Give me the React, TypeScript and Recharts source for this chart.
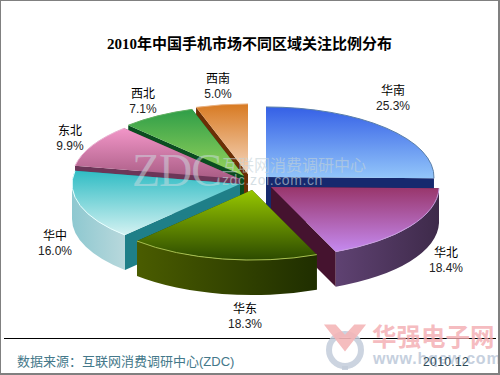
import { Pie, PieChart } from "recharts";

const regions = ["华南", "华北", "华东", "华中", "东北", "西北", "西南"];
const shares = [25.3, 18.4, 18.3, 16.0, 9.9, 7.1, 5.0];

// back to front, the wedges overlap each other
const drawOrder = ["西南", "西北", "东北", "华南", "华中", "华北", "华东"];

const topColors: Record<string, [string, string]> = {
  华南: ["#3560e6", "#93c6fa"],
  华北: ["#98356a", "#c58af0"],
  华东: ["#98c800", "#2c4a00"],
  华中: ["#30bcc4", "#d4f2f2"],
  东北: ["#f296c8", "#a85c84"],
  西北: ["#2f9e48", "#98d45c"],
  西南: ["#d87a22", "#f6d8c0"],
};
const rimColors: Record<string, [string, string]> = {
  华南: ["#1c3080", "#1c3080"],
  华北: ["#5f4272", "#3e2a4a"],
  华东: ["#4a5c00", "#1f2e00"],
  华中: ["#8ec8d0", "#b8d8dc"],
  东北: ["#7a3f60", "#7a3f60"],
  西北: ["#0a4d20", "#0a4d20"],
  西南: ["#6b2f05", "#6b2f05"],
};
const cutColors: Record<string, string> = {
  华南: "#16296e",
  华北: "#45132f",
  华东: "#2c3c00",
  华中: "#1f7f88",
  东北: "#6c3658",
  西北: "#0a4d20",
  西南: "#6b2f05",
};
const edgeColors: Record<string, string> = {
  华南: "#5a7fa8",
  华北: "#c9a0e0",
  华东: "#a8c050",
  华中: "#e8ffff",
  东北: "#e8b0d0",
  西北: "#60b060",
  西南: "#e8b080",
};
const explode: Record<string, [number, number]> = {
  华南: [26, -3],
  华北: [31, 7],
  华东: [12, 10],
  华中: [0, 4],
  东北: [0, -1],
  西北: [4, -4],
  西南: [8, -6],
};
const labelAt: Record<string, [number, number]> = {
  华南: [393, 90],
  华北: [446, 252],
  华东: [245, 308],
  华中: [55, 235],
  东北: [70, 130],
  西北: [143, 93],
  西南: [218, 78],
};

const TILT = 0.417;
const DEPTH = 35;
const sansFont = '"Liberation Sans", "Noto Sans CJK SC", sans-serif';

function WedgeShape(props: any, target: string) {
  const name = props.payload?.name ?? props.name;
  if (name !== target) return <g />;
  const { cx, cy, outerRadius, startAngle, endAngle } = props;
  const rx = outerRadius;
  const ry = outerRadius * TILT;
  const [ox, oy] = explode[name];
  const ax = cx + ox;
  const ay = cy + oy;
  const pt = (deg: number) => {
    const r = (deg * Math.PI) / 180;
    return [ax + rx * Math.cos(r), ay - ry * Math.sin(r)];
  };
  const face = (deg: number) => {
    const p = pt(deg);
    return `M${ax},${ay} L${p[0]},${p[1]} L${p[0]},${p[1] + DEPTH} L${ax},${ay + DEPTH} Z`;
  };

  const [sx, sy] = pt(startAngle);
  const [ex, ey] = pt(endAngle);
  const large = Math.abs(endAngle - startAngle) > 180 ? 1 : 0;
  const top = `M${ax},${ay} L${sx},${sy} A${rx},${ry} 0 ${large} 1 ${ex},${ey} Z`;
  const edge = `M${sx},${sy} A${rx},${ry} 0 ${large} 1 ${ex},${ey}`;

  // only the front half of the rim can be seen
  const r1 = Math.min(startAngle, 0);
  const r2 = Math.max(endAngle, -180);
  let rim = "";
  if (r1 > r2) {
    const [x1, y1] = pt(r1);
    const [x2, y2] = pt(r2);
    rim = `M${x1},${y1} A${rx},${ry} 0 0 1 ${x2},${y2} L${x2},${y2 + DEPTH} A${rx},${ry} 0 0 0 ${x1},${y1 + DEPTH} Z`;
  }

  const id = regions.indexOf(name);
  const [lx, ly] = labelAt[name];
  return (
    <g>
      <defs>
        <linearGradient id={`top${id}`} x1="0" y1="0" x2="0" y2="1">
          <stop offset="0%" stopColor={topColors[name][0]} />
          <stop offset="100%" stopColor={topColors[name][1]} />
        </linearGradient>
        <linearGradient id={`rim${id}`} x1="0" y1="0" x2="1" y2="0">
          <stop offset="0%" stopColor={rimColors[name][0]} />
          <stop offset="100%" stopColor={rimColors[name][1]} />
        </linearGradient>
      </defs>
      <path d={face(startAngle)} fill={cutColors[name]} />
      <path d={face(endAngle)} fill={cutColors[name]} />
      {rim && <path d={rim} fill={`url(#rim${id})`} />}
      <path d={top} fill={`url(#top${id})`} />
      <path d={edge} fill="none" stroke={edgeColors[name]} strokeWidth={1} />
      <text x={lx} y={ly + 5} textAnchor="middle" fontSize={12} fontFamily={sansFont} fill="#000">
        {name}
      </text>
      <text x={lx} y={ly + 20} textAnchor="middle" fontSize={12} fontFamily={sansFont} fill="#222">
        {props.value.toFixed(1)}%
      </text>
    </g>
  );
}

const data = regions.map((name, i) => ({ name, value: shares[i] }));

function Abs({ x, y, style, children }: any) {
  return (
    <div style={{ position: "absolute", left: x, top: y, whiteSpace: "nowrap", ...style }}>
      {children}
    </div>
  );
}

export default function App() {
  return (
    <div
      style={{
        position: "absolute",
        left: 0,
        top: 0,
        width: 500,
        height: 375,
        boxSizing: "border-box",
        border: "1px solid #808080",
        borderRightWidth: 2,
        borderBottomWidth: 2,
        background: "#fff",
        overflow: "hidden",
      }}
    >
      <div style={{ position: "absolute", left: -1, top: -1 }}>
        <PieChart width={500} height={375} margin={{ top: 0, right: 0, bottom: 0, left: 0 }}>
          {drawOrder.map((target) => (
            <Pie
              key={target}
              data={data}
              dataKey="value"
              nameKey="name"
              cx={240}
              cy={180}
              innerRadius={0}
              outerRadius={168}
              startAngle={90}
              endAngle={-270}
              stroke="none"
              isAnimationActive={false}
              shape={(p: any) => WedgeShape(p, target)}
            />
          ))}
        </PieChart>
      </div>

      <Abs
        x={106}
        y={33}
        style={{
          fontFamily: '"Liberation Serif", "Noto Sans CJK SC", serif',
          fontWeight: "bold",
          fontSize: 15,
          lineHeight: "20px",
          color: "#000",
        }}
      >
        2010年中国手机市场不同区域关注比例分布
      </Abs>

      {/* site watermarks */}
      <Abs
        x={131}
        y={147}
        style={{
          fontFamily: '"Liberation Serif", serif',
          fontSize: 46,
          lineHeight: "46px",
          color: "rgba(205,220,225,0.5)",
          letterSpacing: -1,
        }}
      >
        ZDC
      </Abs>
      <Abs
        x={221}
        y={154}
        style={{
          fontFamily: '"Noto Sans CJK SC", sans-serif',
          fontSize: 16,
          lineHeight: "18px",
          color: "rgba(195,210,215,0.6)",
        }}
      >
        互联网消费调研中心
      </Abs>
      <Abs
        x={221}
        y={171}
        style={{
          fontFamily: sansFont,
          fontSize: 14,
          lineHeight: "16px",
          letterSpacing: 0.6,
          color: "rgba(190,205,212,0.65)",
        }}
      >
        zdc.zol.com.cn
      </Abs>

      <div
        style={{
          position: "absolute",
          left: 3,
          top: 337,
          width: 492,
          height: 1,
          background: "#000",
        }}
      />

      <svg width={500} height={375} style={{ position: "absolute", left: -1, top: -1 }}>
        <circle cx={345} cy={350} r={16} fill="none" stroke="#c3ccda" strokeWidth={6} opacity={0.85} />
        <line x1={345} y1={366} x2={345} y2={370} stroke="#c3ccda" strokeWidth={6} opacity={0.85} />
        <path d="M327,326 L345,349 L363,326 L355,326 L345,337 L335,326 Z" fill="#f5b6b8" stroke="#f5b6b8" strokeWidth={3} opacity={0.9} />
      </svg>
      <Abs
        x={371}
        y={320}
        style={{
          fontFamily: '"Noto Sans CJK SC", sans-serif',
          fontWeight: "bold",
          fontSize: 24.5,
          lineHeight: "30px",
          color: "rgba(243,170,175,0.8)",
        }}
      >
        华强电子网
      </Abs>
      <Abs
        x={372}
        y={349}
        style={{
          fontFamily: sansFont,
          fontWeight: "bold",
          fontSize: 16,
          lineHeight: "18px",
          letterSpacing: 0.8,
          color: "#c6d0de",
        }}
      >
        www.hqew.com
      </Abs>

      <Abs
        x={16}
        y={352}
        style={{
          fontFamily: sansFont,
          fontSize: 13,
          lineHeight: "18px",
          color: "#44788a",
        }}
      >
        数据来源：互联网消费调研中心(ZDC)
      </Abs>
      <Abs
        x={422}
        y={352}
        style={{
          fontFamily: sansFont,
          fontSize: 12,
          lineHeight: "18px",
          letterSpacing: 0.4,
          color: "#2f4a58",
        }}
      >
        2010.12
      </Abs>
    </div>
  );
}
